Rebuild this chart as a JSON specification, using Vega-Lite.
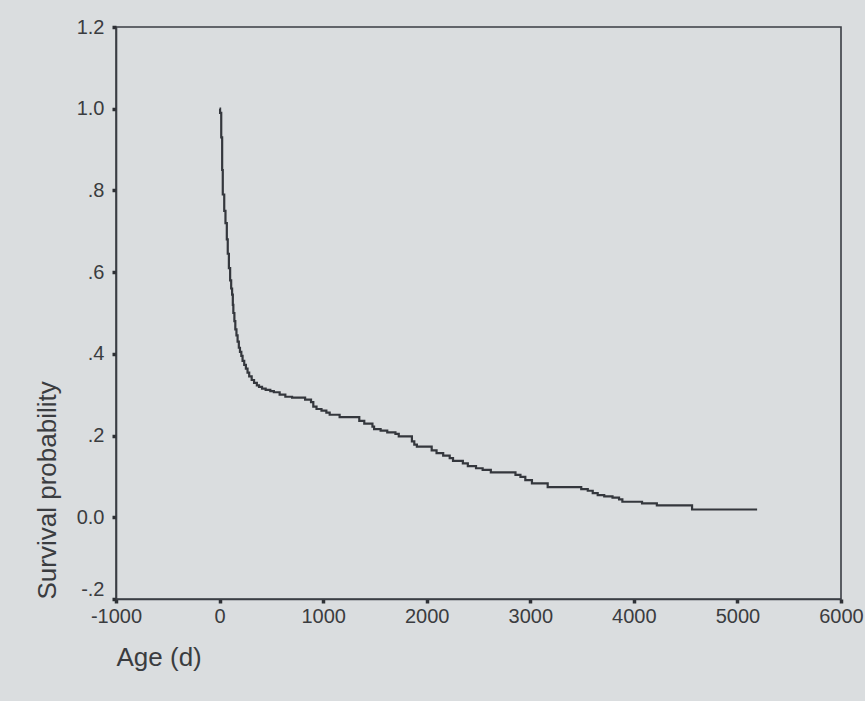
{
  "$schema": "https://vega.github.io/schema/vega-lite/v6.json",
  "width": 725,
  "height": 572,
  "autosize": {"type": "none"},
  "padding": {"left": 116, "top": 27, "right": 24, "bottom": 102},
  "background": "#dadddf",
  "config": {
    "view": {"stroke": "#3a3d44", "strokeWidth": 1.6, "fill": "#dadddf"},
    "font": "Liberation Sans"
  },
  "data": {
    "values": [
      {"t": 0, "s": 1.0}, {"t": 5, "s": 0.99}, {"t": 16, "s": 0.93}, {"t": 25, "s": 0.85},
      {"t": 31, "s": 0.79}, {"t": 45, "s": 0.75}, {"t": 57, "s": 0.72}, {"t": 70, "s": 0.68},
      {"t": 79, "s": 0.645}, {"t": 90, "s": 0.61}, {"t": 102, "s": 0.58}, {"t": 112, "s": 0.56},
      {"t": 121, "s": 0.545}, {"t": 128, "s": 0.52}, {"t": 133, "s": 0.5}, {"t": 143, "s": 0.48},
      {"t": 152, "s": 0.46}, {"t": 163, "s": 0.445}, {"t": 174, "s": 0.43}, {"t": 186, "s": 0.415},
      {"t": 197, "s": 0.405}, {"t": 210, "s": 0.395}, {"t": 222, "s": 0.383}, {"t": 238, "s": 0.373},
      {"t": 254, "s": 0.364}, {"t": 270, "s": 0.354}, {"t": 286, "s": 0.345}, {"t": 310, "s": 0.336},
      {"t": 333, "s": 0.329}, {"t": 360, "s": 0.323}, {"t": 381, "s": 0.319}, {"t": 410, "s": 0.315},
      {"t": 445, "s": 0.312}, {"t": 490, "s": 0.309}, {"t": 524, "s": 0.306}, {"t": 580, "s": 0.3},
      {"t": 635, "s": 0.295}, {"t": 700, "s": 0.293}, {"t": 826, "s": 0.288}, {"t": 883, "s": 0.282},
      {"t": 905, "s": 0.271}, {"t": 936, "s": 0.265}, {"t": 984, "s": 0.261}, {"t": 1031, "s": 0.256},
      {"t": 1063, "s": 0.251}, {"t": 1159, "s": 0.245}, {"t": 1349, "s": 0.236}, {"t": 1397, "s": 0.229},
      {"t": 1476, "s": 0.222}, {"t": 1492, "s": 0.216}, {"t": 1555, "s": 0.212}, {"t": 1619, "s": 0.208},
      {"t": 1698, "s": 0.204}, {"t": 1730, "s": 0.198}, {"t": 1857, "s": 0.186}, {"t": 1880, "s": 0.178},
      {"t": 1905, "s": 0.173}, {"t": 2048, "s": 0.164}, {"t": 2095, "s": 0.157}, {"t": 2159, "s": 0.151},
      {"t": 2222, "s": 0.145}, {"t": 2254, "s": 0.138}, {"t": 2349, "s": 0.132}, {"t": 2397, "s": 0.125},
      {"t": 2476, "s": 0.12}, {"t": 2540, "s": 0.116}, {"t": 2619, "s": 0.11}, {"t": 2857, "s": 0.104},
      {"t": 2905, "s": 0.099}, {"t": 2952, "s": 0.091}, {"t": 3016, "s": 0.083}, {"t": 3168, "s": 0.074},
      {"t": 3492, "s": 0.069}, {"t": 3555, "s": 0.065}, {"t": 3603, "s": 0.059}, {"t": 3651, "s": 0.054},
      {"t": 3714, "s": 0.051}, {"t": 3794, "s": 0.048}, {"t": 3857, "s": 0.044}, {"t": 3889, "s": 0.038},
      {"t": 4079, "s": 0.034}, {"t": 4222, "s": 0.029}, {"t": 4562, "s": 0.019}, {"t": 5190, "s": 0.019}
    ]
  },
  "mark": {"type": "line", "interpolate": "step-after", "color": "#34373d", "strokeWidth": 2.2},
  "encoding": {
    "x": {
      "field": "t",
      "type": "quantitative",
      "scale": {"domain": [-1000, 6000], "nice": false, "zero": false},
      "axis": {
        "title": "Age (d)",
        "values": [-1000, 0, 1000, 2000, 3000, 4000, 5000, 6000],
        "labelExpr": "datum.value < 0 ? '-1000' : format(datum.value, 'd')",
        "grid": false,
        "domainColor": "#3a3d44",
        "domainWidth": 1.6,
        "tickColor": "#2e3035",
        "tickSize": 4,
        "tickWidth": 3.5,
        "labelFont": "Liberation Sans",
        "labelFontSize": 20,
        "labelColor": "#3a3c40",
        "labelPadding": 3,
        "labelFlush": false,
        "titleFont": "Liberation Sans",
        "titleFontSize": 26,
        "titleFontWeight": "normal",
        "titleColor": "#3a3c40",
        "titleAnchor": "start",
        "titleAlign": "left",
        "titlePadding": 18
      }
    },
    "y": {
      "field": "s",
      "type": "quantitative",
      "scale": {"domain": [-0.2, 1.2], "nice": false, "zero": false},
      "axis": {
        "title": "Survival probability",
        "values": [-0.2, 0, 0.2, 0.4, 0.6, 0.8, 1.0, 1.2],
        "labelExpr": "datum.value < -0.01 ? '-.2' : abs(datum.value) < 0.01 ? '0.0' : datum.value > 0.99 ? format(datum.value, '.1f') : '.' + format(datum.value * 10, '.0f')",
        "labelOffset": {"condition": {"test": "datum.value < -0.1", "value": -10}, "value": 0},
        "grid": false,
        "domainColor": "#3a3d44",
        "domainWidth": 1.6,
        "tickColor": "#2e3035",
        "tickSize": 4,
        "tickWidth": 3.5,
        "labelFont": "Liberation Sans",
        "labelFontSize": 20,
        "labelColor": "#3a3c40",
        "labelPadding": 8,
        "labelFlush": false,
        "titleFont": "Liberation Sans",
        "titleFontSize": 26,
        "titleFontWeight": "normal",
        "titleColor": "#3a3c40",
        "titleAnchor": "start",
        "titlePadding": 16
      }
    }
  }
}
